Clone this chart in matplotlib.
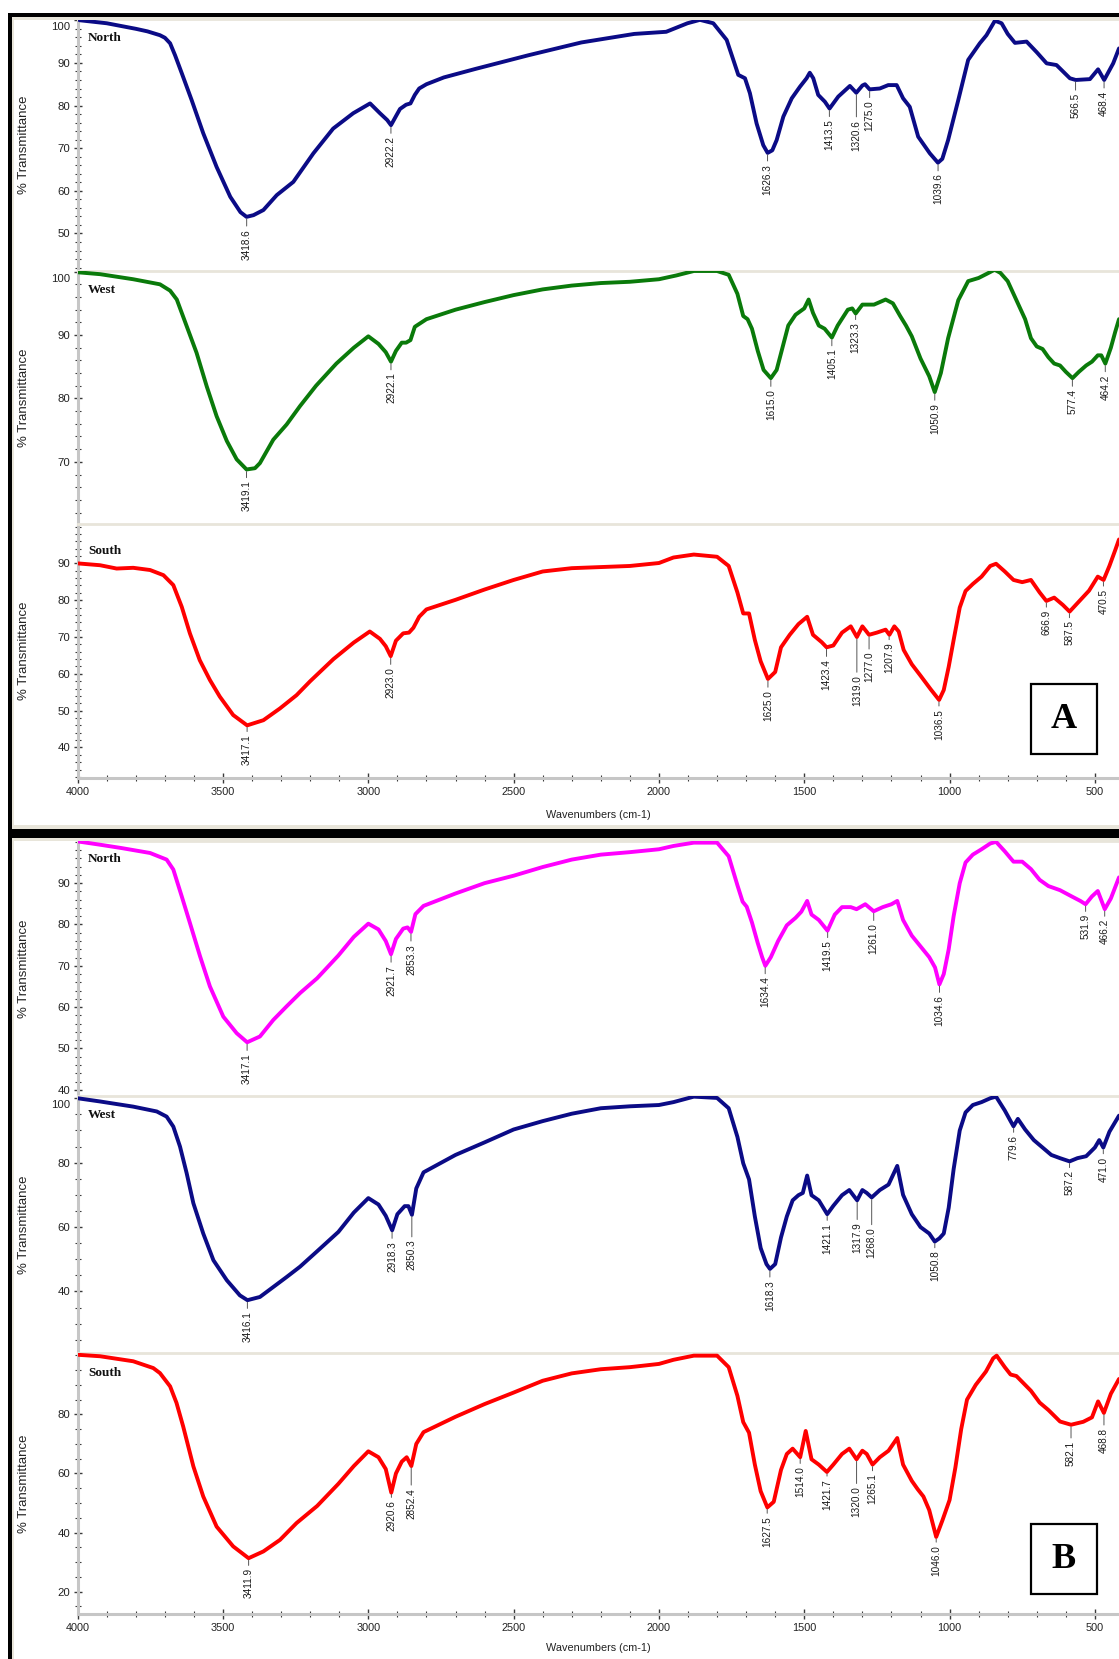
import numpy as np
import matplotlib
matplotlib.use("Agg")
import matplotlib.pyplot as plt
from matplotlib.patches import Rectangle
from matplotlib.ticker import MultipleLocator, FixedLocator, FuncFormatter
import matplotlib.transforms as mtrans

plt.rcParams['font.family'] = ['Liberation Sans', 'DejaVu Sans']

# ---------------- data (wavenumber cm-1, %T) ----------------
a_north_wn = [4000, 3992, 3900, 3800, 3760, 3717, 3700, 3682, 3665, 3642, 3608, 3568, 3522, 3475, 3440, 3419, 3395, 3361, 3315, 3258, 3189, 3121, 3052,
              2994, 2960, 2935, 2922, 2905, 2891, 2870, 2855, 2840, 2825, 2800, 2740, 2631, 2449, 2267, 2085, 1975, 1902, 1859, 1813,
              1767, 1744, 1727, 1704, 1687, 1664, 1641, 1626, 1610, 1595, 1572, 1543, 1515, 1492, 1481, 1469, 1452, 1429, 1413, 1383,
              1343, 1321, 1300, 1291, 1275, 1240, 1211, 1182, 1160, 1137, 1108, 1068, 1040, 1025, 1005, 970, 936, 896, 873, 844,
              821, 800, 775, 735, 700, 666, 632, 586, 566, 517, 489, 468, 437, 417]
a_north_t = [100.2, 100.0, 99.3, 98.0, 97.4, 96.5, 95.9, 94.6, 91.8, 87.6, 81.3, 73.5, 65.6, 58.6, 55.0, 53.9, 54.3, 55.5, 59.0, 62.1, 68.8, 74.6, 78.2,
             80.5, 78.2, 76.6, 75.4, 77.5, 79.2, 80.2, 80.5, 82.5, 84.0, 85.0, 86.6, 88.6, 91.8, 94.8, 96.8, 97.3, 99.3, 100.1, 99.3,
             95.4, 90.7, 87.2, 86.4, 82.9, 75.8, 70.7, 68.9, 69.5, 71.9, 77.4, 81.7, 84.4, 86.4, 87.7, 86.4, 82.5, 80.9, 79.3, 82.1,
             84.6, 83.0, 84.7, 85.0, 83.8, 84.0, 84.8, 84.8, 81.7, 79.7, 72.7, 68.8, 66.6, 67.5, 71.9, 81.3, 90.7, 94.6, 96.5, 99.9,
             99.3, 96.8, 94.7, 95.0, 92.5, 89.9, 89.5, 86.4, 86.0, 86.2, 88.5, 86.0, 89.9, 93.4]
a_north_peaks = [3418.6, 2922.2, 1626.3, 1413.5, 1320.6, 1275.0, 1039.6, 566.5, 468.4]

a_west_wn = [4000, 3923, 3809, 3717, 3682, 3659, 3625, 3591, 3556, 3522, 3487, 3453, 3419, 3390, 3373, 3327, 3281, 3235, 3180, 3110,
             3050, 3000, 2965, 2940, 2922, 2905, 2885, 2870, 2855, 2840, 2800, 2700, 2600, 2500, 2400, 2300, 2200, 2100, 2000, 1940,
             1880, 1800, 1760, 1730, 1710, 1695, 1680, 1660, 1640, 1615, 1595, 1575, 1555, 1530, 1500, 1485, 1470, 1450, 1430, 1405,
             1385, 1350, 1335, 1323, 1300, 1260, 1220, 1195, 1170, 1150, 1130, 1100, 1070, 1051, 1030, 1005, 970, 936, 900, 870,
             845, 825, 800, 780, 760, 740, 720, 700, 680, 660, 640, 620, 600, 577, 555, 530, 510, 490, 478, 464,
             445, 430, 417]
a_west_t = [99.9, 99.6, 98.8, 98.0, 97.0, 95.6, 91.4, 87.2, 81.9, 77.2, 73.3, 70.4, 68.8, 69.0, 69.8, 73.5, 75.9, 78.8, 82.0, 85.5,
            88.0, 89.8, 88.6, 87.3, 85.8, 87.5, 88.8, 88.8, 89.2, 91.3, 92.5, 94.0, 95.2, 96.3, 97.2, 97.8, 98.2, 98.4, 98.8, 99.4,
            100.1, 100.1, 99.5, 96.5, 93.0, 92.5, 91.0, 87.5, 84.5, 83.2, 84.5, 88.0, 91.5, 93.2, 94.2, 95.6, 93.5, 91.5, 91.0, 89.6,
            91.5, 94.0, 94.2, 93.4, 94.8, 94.8, 95.6, 95.0, 93.0, 91.5, 89.8, 86.3, 83.5, 81.0, 84.0, 89.5, 95.5, 98.5, 99.0, 99.7,
            100.3, 99.8, 98.5, 96.5, 94.5, 92.5, 89.5, 88.2, 87.8, 86.5, 85.5, 85.2, 84.2, 83.2, 84.2, 85.2, 85.8, 86.8, 86.8, 85.5,
            88.0, 90.5, 92.5]
a_west_peaks = [3419.1, 2922.1, 1615.0, 1405.1, 1323.3, 1050.9, 577.4, 464.2]

a_south_wn = [4000, 3923, 3866, 3809, 3751, 3705, 3671, 3642, 3614, 3580, 3545, 3511, 3465, 3417, 3361, 3304, 3247, 3200, 3120, 3050,
              2995, 2960, 2940, 2923, 2905, 2880, 2860, 2845, 2825, 2800, 2700, 2600, 2500, 2400, 2300, 2200, 2100, 2000, 1950, 1880,
              1800, 1760, 1730, 1710, 1690, 1670, 1650, 1625, 1600, 1580, 1550, 1520, 1490, 1470, 1440, 1423, 1400, 1370, 1340, 1319,
              1300, 1277, 1250, 1220, 1207, 1190, 1175, 1158, 1130, 1100, 1065, 1036, 1020, 1003, 986, 965, 945, 920, 890, 860,
              840, 810, 780, 750, 720, 690, 667, 640, 610, 587, 560, 520, 490, 470, 450, 430, 417]
a_south_t = [90.0, 89.5, 88.6, 88.8, 88.2, 86.8, 84.1, 78.2, 71.0, 63.7, 58.3, 53.8, 48.8, 46.0, 47.4, 50.6, 54.2, 58.0, 64.0, 68.5,
             71.5, 69.5, 67.5, 64.8, 69.0, 71.0, 71.2, 72.5, 75.5, 77.5, 80.1, 82.9, 85.5, 87.8, 88.7, 89.0, 89.3, 90.1, 91.6, 92.4,
             91.8, 89.3, 82.1, 76.4, 76.4, 69.2, 63.4, 58.6, 60.5, 67.2, 70.6, 73.5, 75.5, 70.6, 68.6, 67.2, 67.7, 71.2, 72.9, 70.0,
             72.9, 70.6, 71.2, 72.0, 70.6, 72.9, 71.5, 66.5, 62.6, 59.5, 55.8, 52.9, 55.6, 61.9, 69.2, 78.0, 82.5, 84.4, 86.4, 89.3,
             89.9, 87.8, 85.5, 84.9, 85.5, 82.1, 79.8, 80.7, 78.7, 76.9, 79.2, 82.6, 86.4, 85.5, 89.3, 93.6, 96.5]
a_south_peaks = [3417.1, 2923.0, 1625.0, 1423.4, 1319.0, 1277.0, 1207.9, 1036.5, 666.9, 587.5, 470.5]

b_north_wn = [4000, 3923, 3850, 3751, 3694, 3671, 3642, 3614, 3579, 3545, 3499, 3453, 3417, 3373, 3327, 3281, 3235, 3176, 3103, 3050,
              3000, 2965, 2940, 2922, 2905, 2880, 2865, 2853, 2838, 2810, 2700, 2600, 2500, 2400, 2300, 2200, 2100, 2000, 1950, 1880,
              1800, 1760, 1730, 1712, 1698, 1680, 1660, 1645, 1634, 1615, 1590, 1560, 1530, 1510, 1490, 1475, 1450, 1420, 1395, 1370, 1340,
              1320, 1290, 1261, 1230, 1200, 1180, 1160, 1130, 1100, 1070, 1050, 1035, 1020, 1003, 986, 965, 945, 920, 890, 860,
              840, 810, 780, 750, 720, 690, 660, 620, 580, 550, 532, 510, 490, 466, 445, 417]
b_north_t = [100.1, 99.3, 98.5, 97.3, 95.7, 93.3, 86.8, 80.4, 72.3, 65.0, 57.7, 53.7, 51.5, 52.9, 56.9, 60.2, 63.4, 67.0, 72.5, 77.0,
             80.2, 78.8, 76.0, 72.8, 76.5, 79.0, 79.3, 78.2, 82.5, 84.5, 87.5, 90.0, 91.8, 93.9, 95.7, 96.9, 97.5, 98.2, 99.0, 99.8,
             99.8, 96.5, 89.5, 85.5, 84.3, 80.5, 75.5, 72.1, 70.0, 72.1, 76.0, 79.8, 81.6, 83.1, 85.7, 82.4, 81.1, 78.5, 82.4, 84.2, 84.2,
             83.7, 84.9, 83.2, 84.2, 84.9, 85.7, 81.1, 77.3, 74.7, 72.1, 69.6, 65.5, 68.0, 74.0, 82.0, 90.0, 95.0, 96.9, 98.2, 99.6,
             100.0, 97.7, 95.2, 95.2, 93.4, 90.8, 89.3, 88.3, 86.8, 85.7, 84.9, 86.8, 88.1, 83.7, 86.3, 91.4]
b_north_peaks = [3417.1, 2921.7, 2853.3, 1634.4, 1419.5, 1261.0, 1034.6, 531.9, 466.2]

b_west_wn = [4000, 3923, 3809, 3728, 3694, 3671, 3648, 3625, 3602, 3568, 3533, 3487, 3442, 3416, 3373, 3327, 3281, 3235, 3176, 3103,
             3050, 3000, 2965, 2940, 2918, 2900, 2875, 2862, 2850, 2835, 2810, 2700, 2600, 2500, 2400, 2300, 2200, 2100, 2000, 1950,
             1880, 1800, 1760, 1730, 1710, 1690, 1670, 1650, 1630, 1618, 1600, 1580, 1560, 1540, 1520, 1505, 1490, 1475, 1450, 1421,
             1400, 1370, 1345, 1318, 1300, 1285, 1268, 1240, 1210, 1180, 1160, 1130, 1100, 1070, 1051, 1035, 1020, 1003, 986, 965,
             945, 920, 890, 860, 840, 810, 790, 780, 765, 740, 710, 680, 650, 620, 587, 560, 530, 500, 485, 471,
             450, 417]
b_west_t = [100.0, 99.0, 97.4, 95.9, 94.3, 91.2, 85.0, 76.7, 67.4, 58.0, 49.7, 43.5, 38.8, 37.3, 38.3, 41.4, 44.5, 47.7, 52.5, 58.5,
            64.5, 69.0, 67.0, 63.5, 59.0, 64.0, 66.5, 66.5, 63.8, 72.0, 77.0, 82.4, 86.3, 90.3, 92.9, 95.2, 96.9, 97.5, 97.9, 98.8,
            100.5, 100.1, 96.9, 88.0, 79.8, 74.8, 63.3, 53.5, 48.5, 47.0, 48.5, 56.8, 63.3, 68.3, 69.9, 70.6, 76.0, 69.9, 68.3, 64.0,
            66.6, 69.9, 71.5, 68.3, 71.5, 70.6, 69.2, 71.5, 73.2, 79.0, 70.0, 64.0, 60.0, 58.0, 55.5, 56.5, 58.0, 66.0, 78.0, 90.0,
            95.6, 97.9, 98.8, 100.0, 100.5, 96.2, 92.9, 91.3, 93.6, 90.3, 87.0, 84.7, 82.4, 81.4, 80.4, 81.4, 82.0, 84.7, 87.0, 84.7,
            89.6, 94.6]
b_west_peaks = [3416.1, 2918.3, 2850.3, 1618.3, 1421.1, 1317.9, 1268.0, 1050.8, 779.6, 587.2, 471.0]

b_south_wn = [4000, 3923, 3809, 3740, 3717, 3682, 3660, 3637, 3602, 3568, 3522, 3465, 3412, 3361, 3304, 3247, 3176, 3103, 3050, 3000,
              2965, 2940, 2921, 2905, 2885, 2868, 2852, 2835, 2810, 2700, 2600, 2500, 2400, 2300, 2200, 2100, 2000, 1950, 1880, 1800,
              1760, 1730, 1710, 1690, 1670, 1650, 1627, 1605, 1580, 1560, 1540, 1514, 1495, 1475, 1450, 1422, 1400, 1370, 1345, 1320,
              1300, 1285, 1265, 1240, 1210, 1180, 1160, 1130, 1110, 1090, 1070, 1046, 1025, 1000, 980, 960, 940, 910, 875, 850,
              838, 810, 790, 770, 740, 720, 690, 660, 620, 582, 540, 510, 489, 469, 445, 417]
b_south_t = [100.2, 99.7, 98.0, 95.7, 94.0, 89.5, 83.9, 75.9, 62.4, 52.2, 42.0, 35.3, 31.3, 33.6, 37.5, 43.2, 49.0, 56.5, 62.5, 67.5,
             65.5, 61.5, 53.5, 60.0, 64.0, 65.5, 62.5, 70.0, 74.0, 79.2, 83.5, 87.4, 91.4, 93.9, 95.3, 96.0, 97.1, 98.5, 99.9, 99.9,
             96.0, 86.3, 77.4, 73.8, 63.0, 54.0, 48.5, 50.4, 61.2, 66.6, 68.4, 65.5, 74.4, 64.8, 63.0, 60.5, 63.0, 66.6, 68.4, 64.8,
             67.7, 66.6, 63.0, 65.5, 67.7, 72.0, 63.0, 57.5, 54.7, 52.2, 47.6, 38.5, 44.0, 51.0, 62.0, 75.0, 85.0, 90.0, 94.5, 99.0,
             99.9, 96.0, 93.5, 93.0, 90.0, 88.0, 84.0, 81.5, 77.6, 76.5, 77.5, 79.0, 84.4, 80.5, 87.0, 92.0]
b_south_peaks = [3411.9, 2920.6, 2852.4, 1627.5, 1514.0, 1421.7, 1320.0, 1265.1, 1046.0, 582.1, 468.8]

series_names = ["North", "West", "South"]
x_label = "Wavenumbers (cm-1)"
y_label = "% Transmittance"
panel_letters = ["A", "B"]

# ---------------- layout (pixels) ----------------
W, H = 1119, 1659
AX_L = 77.7
fig = plt.figure(figsize=(W / 100, H / 100), dpi=100)
fig.patch.set_facecolor("white")


def fx(x):
    return x / W


def fy(y):
    return 1 - y / H


def prect(x0, y0, x1, y1, **kw):
    r = Rectangle((fx(x0), fy(y1)), (x1 - x0) / W, (y1 - y0) / H, transform=fig.transFigure, **kw)
    fig.patches.append(r)
    return r


GRAY = "#C6C6C6"
BEIGE = "#E8E5DA"
TICKC = "#3A3A3A"

specs = [
    # top, bottom, ylim, majors, minor, wn, t, color, name, name_dy, peaks, leads, is_bottom
    (19, 271, (41.2, 100.3), [50, 60, 70, 80, 90, 100], 2, a_north_wn, a_north_t, "#0B0B86", 0, 19,
     a_north_peaks, [8, 7, 7, 7, 23, 7, 7, 9, 7], False),
    (271, 524, (60.2, 100.1), [70, 80, 90, 100], 2, a_west_wn, a_west_t, "#0A7A0A", 1, 19,
     a_west_peaks, [7, 7, 7, 7, 5, 7, 7, 7], False),
    (524, 778, (31.7, 100.7), [40, 50, 60, 70, 80, 90], 2, a_south_wn, a_south_t, "#FF0000", 2, 27,
     a_south_peaks, [5, 7, 7, 8, 34, 13, 4, 5, 5, 5, 5], True),
    (841, 1096, (38.5, 100.2), [40, 50, 60, 70, 80, 90], 2, b_north_wn, b_north_t, "#FF00FF", 0, 18,
     b_north_peaks, [7, 7, 8, 7, 6, 8, 7, 6, 6], False),
    (1096, 1353, (20.9, 100.7), [40, 60, 80, 100], 5, b_west_wn, b_west_t, "#0B0B86", 1, 19,
     b_west_peaks, [7, 7, 21, 7, 5, 18, 26, 5, 5, 5, 5], False),
    (1353, 1614, (12.4, 100.8), [20, 40, 60, 80], 5, b_south_wn, b_south_t, "#FF0000", 2, 20,
     b_south_peaks, [6, 4, 18, 5, 5, 3, 23, 5, 4, 12, 11], True),
]

axw = W - AX_L
for (top, bot, ylim, majors, mstep, wn, tt, color, name_i, name_dy, peaks, leads, is_bottom) in specs:
    axh = bot - top
    ax = fig.add_axes([fx(AX_L), fy(bot), axw / W, axh / H])
    ax.set_facecolor("white")
    wn_a = np.asarray(wn, dtype=float)
    t_a = np.asarray(tt, dtype=float)
    ax.plot(wn_a, t_a, color=color, lw=2.8, solid_joinstyle="round", solid_capstyle="round", zorder=3)
    ax.set_xlim(4000, 417)
    ax.set_ylim(*ylim)

    ax.spines["right"].set_visible(False)
    ax.spines["left"].set_color(GRAY)
    ax.spines["left"].set_linewidth(2.2)
    ax.spines["top"].set_color(BEIGE)
    ax.spines["top"].set_linewidth(2.0)
    if is_bottom:
        ax.spines["bottom"].set_color(GRAY)
        ax.spines["bottom"].set_linewidth(2.2)
    else:
        ax.spines["bottom"].set_visible(False)

    # y ticks
    top_val = max(majors)
    ax.yaxis.set_major_locator(FixedLocator(majors))
    ax.yaxis.set_minor_locator(MultipleLocator(mstep))
    shift_top = top_val > ylim[1] - 1.5
    ax.yaxis.set_major_formatter(FuncFormatter(
        lambda v, p, tv=top_val, st=shift_top: "" if (st and abs(v - tv) < 1e-6) else f"{v:.0f}"))
    ax.tick_params(axis="y", which="major", direction="inout", length=6, width=1.0, color=TICKC,
                   labelsize=8.2, pad=2.5, labelcolor="#222222")
    ax.tick_params(axis="y", which="minor", direction="inout", length=4, width=0.8, color=TICKC)
    if shift_top:
        tr = mtrans.blended_transform_factory(ax.transAxes, ax.transData)
        ax.text(-7.5 / axw, top_val - 0.4 * (ylim[1] - ylim[0]) / 100 * 2, f"{top_val:.0f}", transform=tr,
                ha="right", va="top", fontsize=8.2, color="#222222")

    # x ticks
    if is_bottom:
        ax.xaxis.set_major_locator(MultipleLocator(500))
        ax.xaxis.set_minor_locator(MultipleLocator(100))
        ax.xaxis.set_major_formatter(FuncFormatter(lambda v, p: f"{v:.0f}"))
        ax.tick_params(axis="x", which="major", direction="inout", length=7, width=1.0, color=TICKC,
                       labelsize=7.8, pad=3, labelcolor="#222222")
        ax.tick_params(axis="x", which="minor", direction="inout", length=4, width=0.8, color=TICKC)
    else:
        ax.tick_params(axis="x", which="both", bottom=False, labelbottom=False)

    ax.set_ylabel(y_label, fontsize=9.5, color="#222222")
    ax.yaxis.set_label_coords((30 - AX_L) / axw, 0.5)

    ax.text((88 - AX_L) / axw, 1 - name_dy / axh, series_names[name_i], transform=ax.transAxes,
            ha="left", va="center", fontsize=9.5, fontweight="bold", family="Liberation Serif",
            color="#111111", zorder=5)

    # peak annotations
    order = np.argsort(wn_a)
    for p, lead in zip(peaks, leads):
        yv = float(np.interp(p, wn_a[order], t_a[order]))
        ax.annotate(f"{p:.1f}", xy=(p, yv), xytext=(0, -(lead + 4)), textcoords="offset pixels",
                    rotation=90, ha="center", va="top", fontsize=7.2, color="#1A1A1A",
                    arrowprops=dict(arrowstyle="-", color="#555555", lw=0.7, shrinkA=0, shrinkB=1.5),
                    annotation_clip=False, zorder=4)

# x labels
fig.text(fx(598), fy(815), x_label, ha="center", va="center", fontsize=7.8, color="#222222")
fig.text(fx(598), fy(1648), x_label, ha="center", va="center", fontsize=7.8, color="#222222")

# panel frames
prect(12, 17, W, 19.5, facecolor=BEIGE, edgecolor="none", zorder=2)
prect(12, 17, 14, 829, facecolor=BEIGE, edgecolor="none", zorder=2)
prect(12, 825.5, W, 829, facecolor=BEIGE, edgecolor="none", zorder=2)
prect(12, 838, W, 840.5, facecolor=BEIGE, edgecolor="none", zorder=2)
prect(12, 838, 14, H, facecolor=BEIGE, edgecolor="none", zorder=2)
prect(8, 13, W, 17, facecolor="black", edgecolor="none", zorder=3)
prect(8, 13, 12, H, facecolor="black", edgecolor="none", zorder=3)
prect(8, 829, W, 838, facecolor="black", edgecolor="none", zorder=3)

# panel letter boxes
for letter, (bx0, by0, bx1, by1) in zip(panel_letters, [(1031, 684, 1097, 754), (1031, 1524, 1097, 1594)]):
    prect(bx0, by0, bx1, by1, facecolor="white", edgecolor="black", linewidth=1.6, zorder=4)
    fig.text(fx((bx0 + bx1) / 2), fy((by0 + by1) / 2 + 1), letter, ha="center", va="center",
             fontsize=26, fontweight="bold", family="Liberation Serif", color="black", zorder=5)

fig.savefig("out.png", dpi=100, facecolor="white")
